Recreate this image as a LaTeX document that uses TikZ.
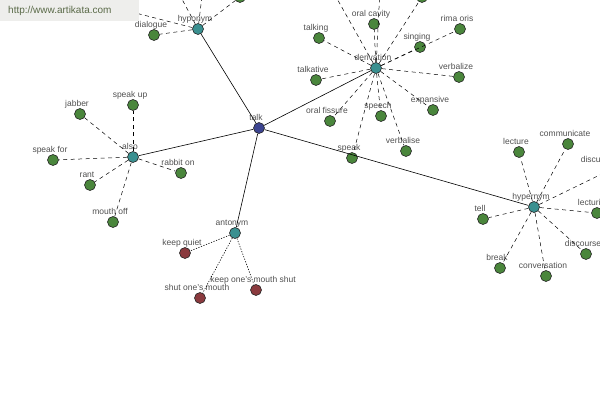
\documentclass[tikz,border=0pt]{standalone}
\usepackage{fontspec}
\setmainfont{Liberation Sans}
\usetikzlibrary{positioning}
\definecolor{leafgreen}{HTML}{4A863C}
\definecolor{relteal}{HTML}{3A9090}
\definecolor{rootblue}{HTML}{3C4490}
\definecolor{oppred}{HTML}{8A3A3E}
\definecolor{labelgray}{HTML}{505050}
\definecolor{markgray}{HTML}{EEEEEC}
\definecolor{markgreen}{HTML}{5A6A48}

\begin{document}
\begin{tikzpicture}[x=1pt, y=-1pt,
    lbl/.style={font=\fontsize{8.5}{9}\selectfont, text=labelgray, inner sep=0pt,
        text height=6.5pt, text depth=2pt, xshift=-3pt},
    dot/.style={circle, draw=black!85, line width=0.6pt, minimum size=11pt, inner sep=0pt},
    leaf/.style={dot, fill=leafgreen},
    word/.style={leaf, label={[lbl]above:#1}},
    rel/.style={dot, fill=relteal, label={[lbl]above:#1}},
    opp/.style={dot, fill=oppred, label={[lbl]above:#1}},
    link/.style={line width=0.6pt},
    sub/.style={line width=0.5pt, dash pattern=on 4pt off 3.5pt},
    dots/.style={line width=0.6pt, dash pattern=on 1.2pt off 1.5pt}
]
\useasboundingbox (0,0) rectangle (600,400);
\clip (0,0) rectangle (600,400);

% centre and relations
\node[dot, fill=rootblue, label={[lbl]above:talk}] (talk) at (259,128) {};
\node[rel=hyponym] (hyponym) at (198,29) {};
\node[rel=derivation] (derivation) at (376,68) {};
\node[rel=also] (also) at (133,157) {};
\node[rel=antonym] (antonym) at (235,233) {};
\node[rel=hypernym] (hypernym) at (534,207) {};

% hyponym
\node[word=dialogue] (dialogue) at (154,35) {};
\node[leaf] (hypoD) at (240,-3) {};
\coordinate (hypoA) at (176,-12);
\coordinate (hypoB) at (203,-12);
\coordinate (hypoC) at (120,9);

% derivation
\node[word=oral cavity] (oralcavity) at (374,24) {};
\node[word=talking] (talking) at (319,38) {};
\node[word=rima oris] (rimaoris) at (460,29) {};
\node[word=singing] (singing) at (420,47) {};
\node[word=talkative] (talkative) at (316,80) {};
\node[word=verbalize] (verbalize) at (459,77) {};
\node[word=oral fissure] (oralfissure) at (330,121) {};
\node[word=speech] (speech) at (381,116) {};
\node[word=expansive] (expansive) at (433,110) {};
\node[word=verbalise] (verbalise) at (406,151) {};
\node[word=speak] (speak) at (352,158) {};
\node[leaf] (deriE) at (422,-3) {};
\coordinate (deriA) at (331,-12);
\coordinate (deriB) at (380,-12);

% also
\node[word=jabber] (jabber) at (80,114) {};
\node[word=speak up] (speakup) at (133,105) {};
\node[word=speak for] (speakfor) at (53,160) {};
\node[word=rant] (rant) at (90,185) {};
\node[word=rabbit on] (rabbiton) at (181,173) {};
\node[word=mouth off] (mouthoff) at (113,222) {};

% antonym
\node[opp=keep quiet] (keepquiet) at (185,253) {};
\node[opp=shut one's mouth] (shutmouth) at (200,298) {};
\node[opp=keep one's mouth shut] (keepshut) at (256,290) {};

% hypernym
\node[word=lecture] (lecture) at (519,152) {};
\node[word=communicate] (communicate) at (568,144) {};
\node[leaf, label={[lbl, xshift=-12pt]above:discuss}] (discuss) at (610,170) {};
\node[word=lecturing] (lecturing) at (597,213) {};
\node[word=discourse] (discourse) at (586,254) {};
\node[word=conversation] (conversation) at (546,276) {};
\node[word=break] (break) at (500,268) {};
\node[word=tell] (tell) at (483,219) {};

\draw[link] (talk) edge (hyponym) edge (derivation) edge (also)
    edge (antonym) edge (hypernym);
\draw[sub] (hyponym) edge (dialogue) edge (hypoA) edge (hypoB)
    edge (hypoC) edge (hypoD);
\draw[sub] (derivation) edge (oralcavity) edge (talking) edge (rimaoris)
    edge (singing) edge (talkative) edge (verbalize) edge (oralfissure)
    edge (speech) edge (expansive) edge (verbalise) edge (speak)
    edge (deriA) edge (deriB) edge (deriE);
\draw[sub] (also) edge (jabber) edge (speakup) edge (speakfor)
    edge (rant) edge (rabbiton) edge (mouthoff);
\draw[dots] (antonym) edge (keepquiet) edge (shutmouth) edge (keepshut);
\draw[sub] (hypernym) edge (lecture) edge (communicate) edge (discuss)
    edge (lecturing) edge (discourse) edge (conversation)
    edge (break) edge (tell);

% watermark
\fill[markgray] (0,0) rectangle (139,21);
\node[anchor=west, inner sep=0pt, text=markgreen, font=\fontsize{10}{12}\selectfont]
    (site) at (8,10.5) {http://www.artikata.com};
\end{tikzpicture}
\end{document}
